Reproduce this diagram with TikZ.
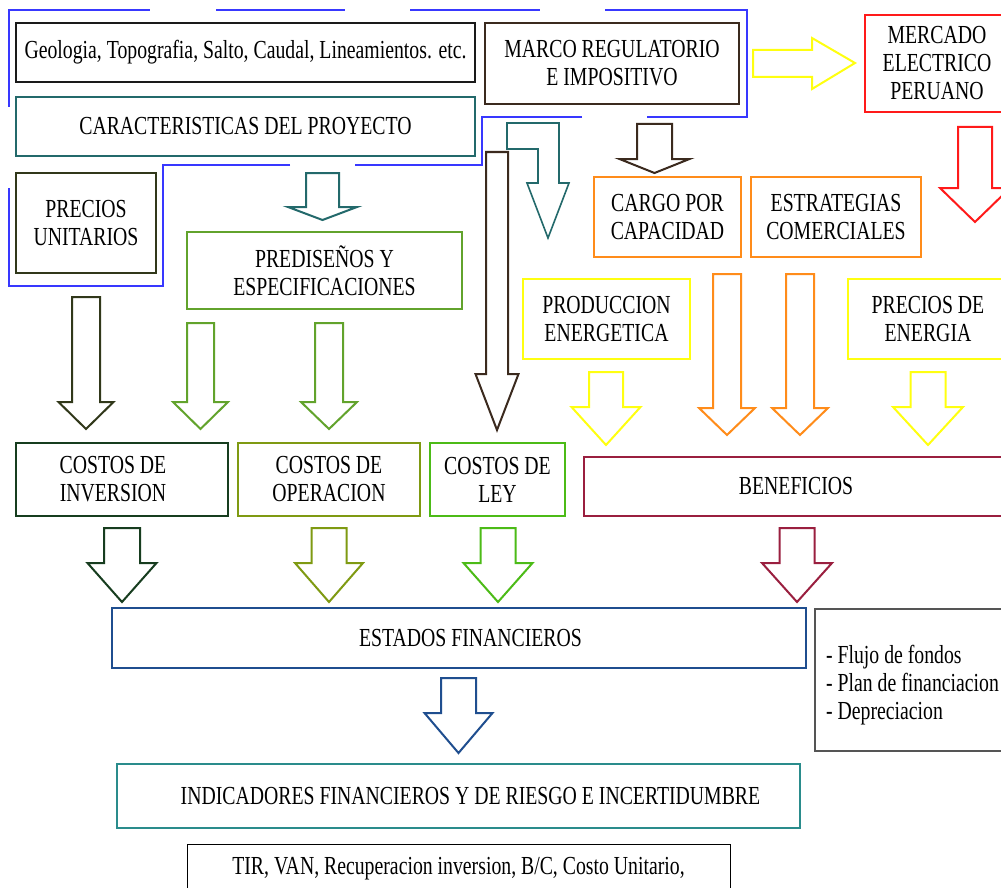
\documentclass[tikz,border=0pt]{standalone}
\usepackage{fontspec}
\setmainfont{Liberation Serif}[FakeStretch=0.76]
\definecolor{cBlack}{HTML}{1A1A1A}
\definecolor{cTeal}{HTML}{23696B}
\definecolor{cDOlive}{HTML}{31381A}
\definecolor{cGreen}{HTML}{62A32C}
\definecolor{cBrown}{HTML}{3B2A1E}
\definecolor{cYellow}{HTML}{FFFF10}
\definecolor{cRed}{HTML}{FF1A1A}
\definecolor{cOrange}{HTML}{FF8C1A}
\definecolor{cDGreen}{HTML}{173D1F}
\definecolor{cOlive}{HTML}{7F9A12}
\definecolor{cLey}{HTML}{4CBB17}
\definecolor{cCrimson}{HTML}{9A1F3F}
\definecolor{cBlue}{HTML}{1F4E8F}
\definecolor{cTeal2}{HTML}{2A8C8C}
\definecolor{cGray}{HTML}{555555}
\definecolor{cOutline}{HTML}{3838FF}
\newcommand\boxat[7]{\node[boxst,draw=#2,minimum width={(#5)-(#3)},minimum height={(#6)-(#4)}] (#1) at ({((#3)+(#5))/2},{((#4)+(#6))/2}) {#7};}
% color, cx, top, shaft half, head y, head half, tip y
\newcommand\darr[7]{\draw[arrowline,draw=#1] ({#2-#4},#3) -- ({#2+#4},#3) -- ({#2+#4},#5) -- ({#2+#6},#5) -- (#2,#7) -- ({#2-#6},#5) -- ({#2-#4},#5) -- cycle;}
\begin{document}
\begin{tikzpicture}[x=1pt,y=-1pt,
  boxst/.style={draw,line width=2.2pt,inner sep=0pt,align=center,text=black,font=\fontsize{26}{28}\selectfont},
  arrowline/.style={line width=2pt,line join=miter,fill=white}]
\clip (0,0) rectangle (1001,888);
\fill[white] (0,0) rectangle (1001,888);
% blue outline
\draw[cOutline,line width=1.1pt] (9,107) -- (9,10) -- (150,10);
\draw[cOutline,line width=1.1pt] (216,10) -- (345,10);
\draw[cOutline,line width=1.1pt] (410,10) -- (540,10);
\draw[cOutline,line width=1.1pt] (605,10) -- (747,10) -- (747,117) -- (647,117);
\draw[cOutline,line width=1.1pt] (582,117) -- (482,117) -- (482,165) -- (355,165);
\draw[cOutline,line width=1.1pt] (290,165) -- (163,165) -- (163,286) -- (9,286) -- (9,188);
% boxes
\boxat{geo}{cBlack}{16}{23}{475}{82}{Geologia, Topografia, Salto, Caudal, Lineamientos. etc.}
\boxat{car}{cTeal}{16}{97}{475}{156}{CARACTERISTICAS DEL PROYECTO}
\boxat{pu}{cDOlive}{16}{173}{156}{273}{PRECIOS\\UNITARIOS}
\boxat{pre}{cGreen}{187}{232}{462}{309}{PREDISEÑOS Y\\ESPECIFICACIONES}
\boxat{marco}{cBrown}{485}{23}{739}{104}{MARCO REGULATORIO\\E IMPOSITIVO}
\boxat{merc}{cRed}{865}{15}{1009}{112}{MERCADO\\ELECTRICO\\PERUANO}
\boxat{cargo}{cOrange}{594}{177}{741}{257}{CARGO POR\\CAPACIDAD}
\boxat{estr}{cOrange}{751}{177}{921}{257}{ESTRATEGIAS\\COMERCIALES}
\boxat{prod}{cYellow}{523}{279}{690}{359}{PRODUCCION\\ENERGETICA}
\boxat{pen}{cYellow}{848}{279}{1008}{359}{PRECIOS DE\\ENERGIA}
\boxat{ci}{cDGreen}{16}{443}{228}{516}{COSTOS DE\hspace*{18pt}\\INVERSION\hspace*{18pt}}
\boxat{co}{cOlive}{238}{443}{420}{516}{COSTOS DE\\OPERACION}
\boxat{cl}{cLey}{430}{443}{565}{516}{COSTOS DE\\LEY}
\boxat{ben}{cCrimson}{584}{457}{1008}{516}{BENEFICIOS}
\boxat{est}{cBlue}{112}{608}{806}{668}{\hspace*{23pt}ESTADOS FINANCIEROS}
\boxat{ind}{cTeal2}{117}{764}{800}{828}{\hspace*{24pt}INDICADORES FINANCIEROS Y DE RIESGO E INCERTIDUMBRE}
\node[boxst,draw=cGray,line width=1.3pt,align=left,minimum width=195pt,minimum height=142pt] (flu) at (912.5,680) {\rule{0pt}{28pt}- Flujo de fondos\\- Plan de financiacion\\- Depreciacion};
\node[boxst,draw=black,line width=1pt,minimum width=543pt,minimum height=49pt] (tir) at (458.5,869) {TIR, VAN, Recuperacion inversion, B/C, Costo Unitario,};
% block arrows
\draw[arrowline,draw=cYellow] (753,50) -- (812,50) -- (812,38) -- (855,63) -- (812,89) -- (812,77) -- (753,77) -- cycle;
\draw[arrowline,draw=cTeal,line width=1.6pt] (507,123) -- (559,123) -- (559,183) -- (569,183) -- (548,238) -- (527,183) -- (538,183) -- (538,149) -- (507,149) -- cycle;
\darr{cBrown}{497}{152}{11}{374}{21.5}{430}
\darr{cBrown}{654.5}{124}{17.5}{159}{35}{173}
\darr{cTeal}{322.5}{173}{16.5}{207}{34.5}{220}
\darr{cRed}{975}{127}{17}{188}{35}{222}
\darr{cDOlive}{86}{297}{14}{402}{27.5}{429}
\darr{cGreen}{200.5}{323}{13.5}{402}{27.5}{429}
\darr{cGreen}{329}{323}{14}{402}{28}{429}
\darr{cOrange}{727}{274}{14}{408}{28}{435}
\darr{cOrange}{800}{274}{14}{408}{28}{435}
\darr{cYellow}{606}{372}{17}{407}{34.5}{445}
\darr{cYellow}{928}{372}{17.5}{407}{35}{445}
\darr{cDGreen}{122}{528}{18}{563}{34.5}{602}
\darr{cOlive}{329}{528}{17.5}{563}{34}{602}
\darr{cLey}{498}{528}{17.5}{563}{34.5}{602}
\darr{cCrimson}{797}{528}{17.5}{563}{35}{602}
\darr{cBlue}{458.5}{678}{17.5}{713}{34}{753}
\end{tikzpicture}
\end{document}
